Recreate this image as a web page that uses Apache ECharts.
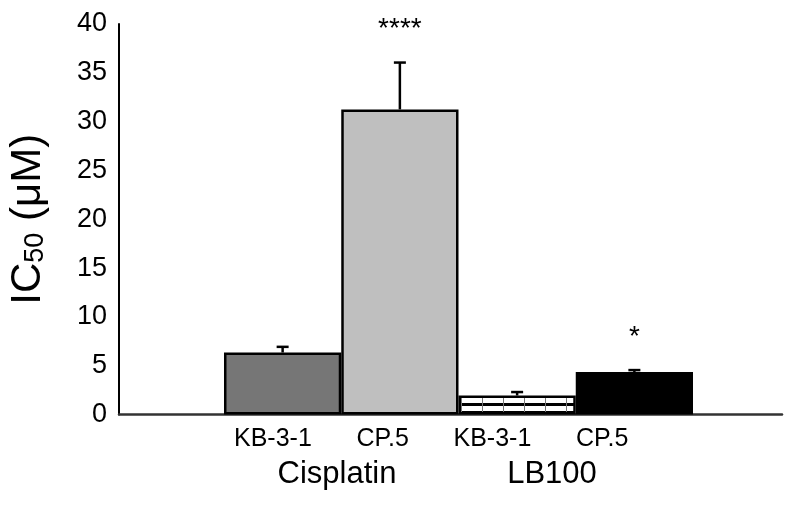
<!DOCTYPE html>
<html>
<head>
<meta charset="utf-8">
<script src="https://cdn.jsdelivr.net/npm/echarts@6/dist/echarts.min.js"></script>
<style>html,body{margin:0;padding:0;background:#fff}#c{width:786px;height:513px}</style>
</head>
<body>
<div id="c"></div>
<script>
// ---- data ----
const categories = ['KB-3-1', 'CP.5', 'KB-3-1', 'CP.5'];
const groups = ['Cisplatin', 'LB100'];
const values = [6.35, 31.25, 1.95, 4.35];
const errors = [0.58, 4.8, 0.35, 0.2];
const significance = ['', '****', '', '*'];
const yTicks = { min: 0, max: 40, interval: 5 };

// ---- styles ----
function brickPattern() {
  const c = document.createElement('canvas');
  c.width = 21; c.height = 8;
  const g = c.getContext('2d');
  g.fillStyle = '#fff'; g.fillRect(0, 0, 21, 8);
  g.fillStyle = '#000'; g.fillRect(0, 3, 21, 3);
  g.fillStyle = '#777'; g.fillRect(20, 0, 1, 8);
  return c;
}
const fills = ['#767676', '#bfbfbf', { image: brickPattern(), repeat: 'repeat' }, '#000000'];

const font = 'Liberation Sans, Arial, sans-serif';
const chart = echarts.init(document.getElementById('c'));
const gTop = 24, gBottom = 98.5;
const gridBase = { top: gTop, bottom: gBottom, containLabel: false, outerBoundsMode: 'none' };

chart.setOption({
  animation: false,
  backgroundColor: '#fff',
  textStyle: { fontFamily: font, color: '#000' },
  grid: [
    Object.assign({ left: 224, right: 93 }, gridBase),
    Object.assign({ left: 119, right: 4 }, gridBase),
    Object.assign({ left: 218, right: 129 }, gridBase),
    Object.assign({ left: 229.5, right: 126.5 }, gridBase)
  ],
  xAxis: [
    { gridIndex: 0, type: 'category', data: categories, show: false },
    { gridIndex: 1, type: 'category', data: [''], axisLine: { lineStyle: { color: '#333', width: 2.5 } },
      axisTick: { show: false }, axisLabel: { show: false } },
    { gridIndex: 2, type: 'category', data: categories, axisLine: { show: false }, axisTick: { show: false },
      axisLabel: { fontSize: 25, color: '#000', margin: 12, fontFamily: font } },
    { gridIndex: 3, type: 'category', data: groups, axisLine: { show: false }, axisTick: { show: false },
      axisLabel: { fontSize: 31, color: '#000', margin: 44, fontFamily: font } }
  ],
  yAxis: [
    { gridIndex: 0, type: 'value', min: yTicks.min, max: yTicks.max, interval: yTicks.interval, offset: 105,
      axisLine: { show: true, lineStyle: { color: '#000', width: 2 } },
      axisTick: { show: false }, splitLine: { show: false },
      axisLabel: { fontSize: 27, color: '#000', margin: 12, fontFamily: font },
      name: '{a|IC}{s|50}{a| (μM)}', nameLocation: 'middle', nameGap: 70, nameRotate: 90,
      nameTextStyle: { rich: {
        a: { fontSize: 42, fontFamily: font, color: '#000', lineHeight: 46, verticalAlign: 'bottom' },
        s: { fontSize: 27, fontFamily: font, color: '#000', lineHeight: 26, verticalAlign: 'bottom' }
      } } },
    { gridIndex: 1, type: 'value', show: false, min: 0, max: 40 },
    { gridIndex: 2, type: 'value', show: false, min: 0, max: 40 },
    { gridIndex: 3, type: 'value', show: false, min: 0, max: 40 }
  ],
  series: [
    {
      type: 'bar', xAxisIndex: 0, yAxisIndex: 0, barCategoryGap: '0%', z: 2,
      data: values.map((v, i) => ({ value: v, itemStyle: { color: fills[i], borderColor: '#000', borderWidth: 2.5 } }))
    },
    {
      type: 'custom', xAxisIndex: 0, yAxisIndex: 0, z: 5,
      data: values.map((v, i) => [i, v, errors[i]]),
      renderItem: function (params, api) {
        const i = api.value(0), v = api.value(1), e = api.value(2);
        const sig = significance[params.dataIndex];
        const p0 = api.coord([i, v]);
        const p1 = api.coord([i, v + e]);
        const cw = 6;
        const children = [
          { type: 'line', shape: { x1: p0[0], y1: p0[1], x2: p1[0], y2: p1[1] }, style: { stroke: '#000', lineWidth: 2.5 } },
          { type: 'line', shape: { x1: p1[0] - cw, y1: p1[1], x2: p1[0] + cw, y2: p1[1] }, style: { stroke: '#000', lineWidth: 2.5 } }
        ];
        if (sig) {
          children.push({ type: 'text', style: { text: sig, x: p1[0], y: p1[1] - 33, textAlign: 'center', textVerticalAlign: 'middle',
            font: '28px ' + font, fill: '#000' } });
        }
        return { type: 'group', children: children };
      }
    }
  ]
});
</script>
</body>
</html>
